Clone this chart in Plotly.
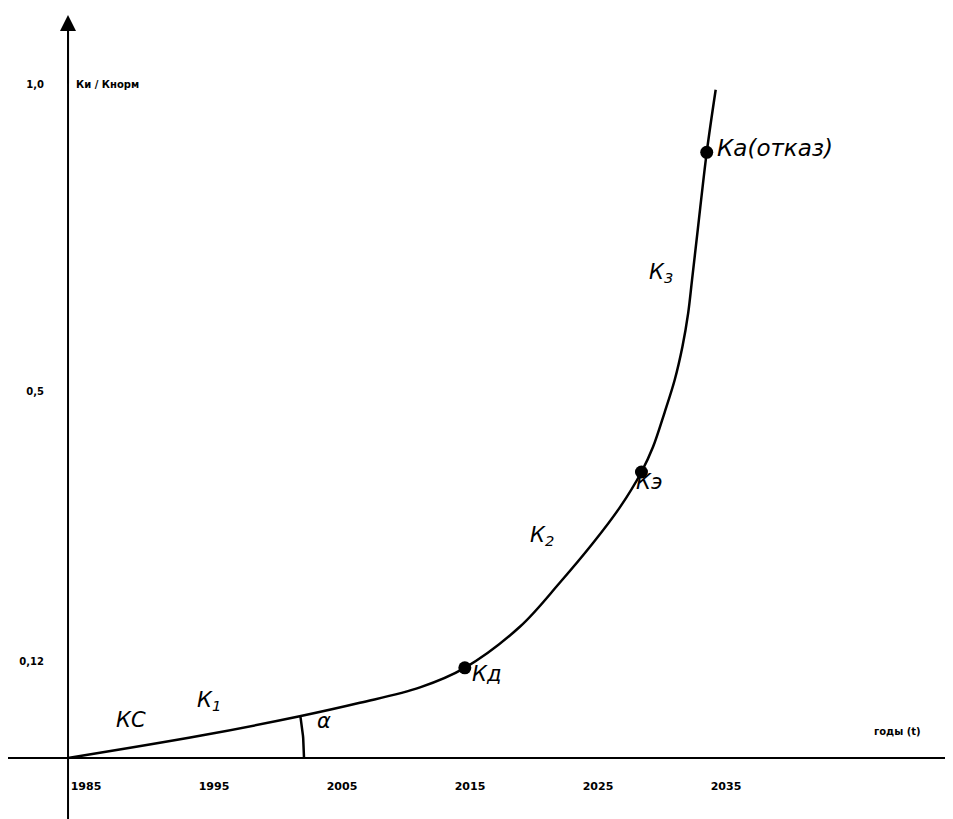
import numpy as np
import plotly.graph_objects as go

# curve (years, K-ratio)
years = [1985.0, 1995.3, 2003.1, 2007.8, 2012.5, 2016.0, 2020.3, 2023.4, 2026.0,
         2028.1, 2029.8, 2030.7, 2031.6, 2032.4, 2033.0, 2033.45, 2033.75,
         2034.2, 2034.9, 2035.6]
values = [0.0, 0.033, 0.062, 0.082, 0.105, 0.134, 0.195, 0.260, 0.319,
          0.372, 0.425, 0.462, 0.513, 0.562, 0.611, 0.661, 0.710,
          0.785, 0.900, 0.993]

point_years = [2016.0, 2029.8, 2034.9]
point_values = [0.134, 0.425, 0.900]

x_ticks = [1985, 1995, 2005, 2015, 2025, 2035]
x_ticktext = ["1985", "1995", "2005", "2015", "2025", "2035"]
y_ticks = [0.143, 0.544, 1.0]
y_ticktext = ["0,12", "0,5", "1,0"]

# page has an 8px body margin, so the figure is 8px smaller each way
W, H = 945, 811
x_range = [1980.31, 2054.14]
y_range = [-0.0906, 1.1144]
px_year = W / (x_range[1] - x_range[0])
px_unit = H / (y_range[1] - y_range[0])

fig = go.Figure()

fig.add_trace(go.Scatter(x=years, y=values, mode="lines",
                         line=dict(color="black", width=2.5, shape="spline", smoothing=1.0),
                         hoverinfo="skip", showlegend=False))
fig.add_trace(go.Scatter(x=point_years, y=point_values, mode="markers",
                         marker=dict(color="black", size=13),
                         hoverinfo="skip", showlegend=False))

# angle arc alpha, centred at the origin
slope_px = (values[2] * px_unit) / ((years[2] - years[0]) * px_year)
ang = np.linspace(0, np.arctan(slope_px), 20)
r = 236
fig.add_trace(go.Scatter(x=years[0] + r * np.cos(ang) / px_year,
                         y=r * np.sin(ang) / px_unit, mode="lines",
                         line=dict(color="black", width=2.5),
                         hoverinfo="skip", showlegend=False))

# axes lines
fig.add_shape(type="line", x0=x_range[0], x1=x_range[1], y0=0, y1=0,
              line=dict(color="black", width=2))
fig.add_shape(type="line", x0=1985, x1=1985, y0=y_range[0], y1=1.09,
              line=dict(color="black", width=2))
fig.add_annotation(x=1985, y=1.104, ax=1985, ay=1.0, xref="x", yref="y",
                   axref="x", ayref="y", text="", showarrow=True,
                   arrowhead=2, arrowsize=1.6, arrowwidth=2, arrowcolor="black")

lab_font = dict(family="DejaVu Sans", size=21, color="black", style="italic")
labels = [
    (1989.9, 0.057, "КС"),
    (1996.0, 0.085, "К<sub>1</sub>"),
    (2022.0, 0.33, "К<sub>2</sub>"),
    (2031.3, 0.72, "К<sub>3</sub>"),
    (2017.7, 0.125, "Кд"),
    (2030.4, 0.41, "Кэ"),
    (2040.2, 0.907, "Ка(отказ)"),
    (2005.0, 0.055, "α"),
]
for lx, ly, txt in labels:
    f = dict(lab_font, size=23) if "отказ" in txt else lab_font
    fig.add_annotation(x=lx, y=ly, text=txt, showarrow=False, font=f)

small = dict(family="DejaVu Sans", size=10, color="black", weight="bold")
fig.add_annotation(x=1985.5, y=1.0, text="Ки / Кнорм", showarrow=False,
                   xanchor="left", font=small)
fig.add_annotation(x=2051.8, y=0.04, text="годы (t)", showarrow=False,
                   xanchor="right", font=small)

fig.update_layout(
    width=W, height=H, margin=dict(l=0, r=0, t=0, b=0),
    plot_bgcolor="white", paper_bgcolor="white",
    xaxis=dict(range=x_range, showgrid=False, zeroline=False, showline=False,
               anchor="free", position=-y_range[0] / (y_range[1] - y_range[0]),
               tickvals=x_ticks, ticktext=x_ticktext, ticks="",
               ticklabelshift=18, ticklabelstandoff=20,
               tickfont=dict(family="DejaVu Sans", size=11, color="black", weight="bold")),
    yaxis=dict(range=y_range, showgrid=False, zeroline=False, showline=False,
               anchor="free", position=(years[0] - x_range[0]) / (x_range[1] - x_range[0]),
               tickvals=y_ticks, ticktext=y_ticktext, ticks="",
               ticklabelstandoff=24,
               tickfont=dict(family="DejaVu Sans", size=10, color="black", weight="bold")),
)

fig.write_html("out.html")
